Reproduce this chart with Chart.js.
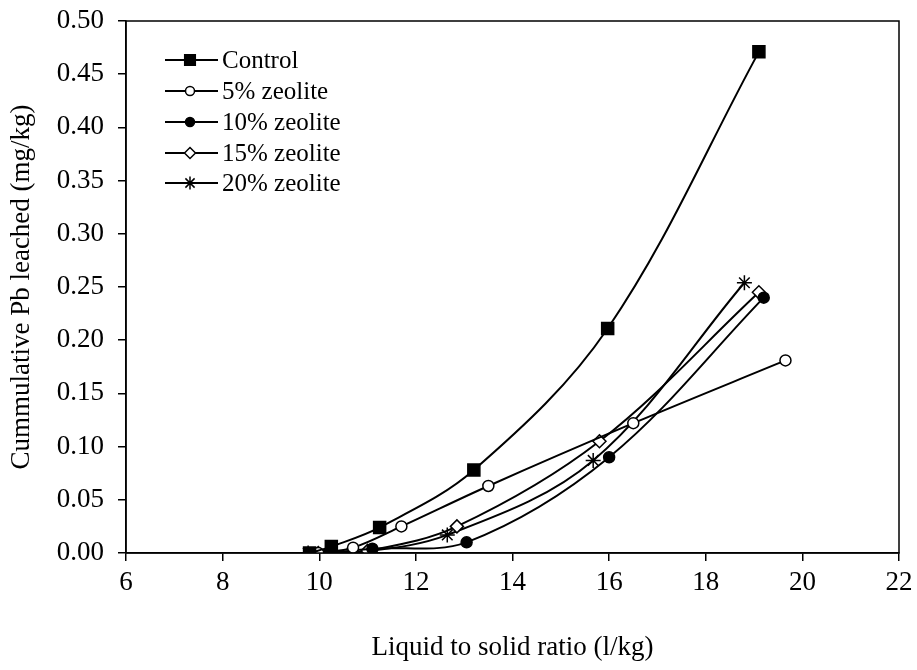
<!DOCTYPE html>
<html>
<head>
<meta charset="utf-8">
<script src="https://cdn.jsdelivr.net/npm/chart.js@4.4.0/dist/chart.umd.min.js"></script>
<style>
  html, body { margin: 0; padding: 0; background: #fff; }
</style>
</head>
<body>
<canvas id="leachChart" width="917" height="670"></canvas>
<script>
// Values
const controlX = [9.8, 10.25, 11.25, 13.2, 15.97, 19.1];
const controlY = [0, 0.006, 0.024, 0.078, 0.211, 0.471];

const zeo5X = [9.98, 10.7, 11.7, 13.5, 16.5, 19.65];
const zeo5Y = [0, 0.005, 0.025, 0.063, 0.122, 0.181];

const zeo10X = [10.2, 11.1, 13.05, 16.0, 19.2];
const zeo10Y = [0, 0.004, 0.01, 0.09, 0.24];

const zeo15X = [9.98, 11.0, 12.85, 15.8, 19.1];
const zeo15Y = [0, 0.002, 0.025, 0.105, 0.245];

const zeo20X = [9.77, 10.68, 12.65, 15.67, 18.8];
const zeo20Y = [0, 0, 0.017, 0.087, 0.254];

const xTicks = [6, 8, 10, 12, 14, 16, 18, 20, 22];
const yTicks = [0, 0.05, 0.10, 0.15, 0.20, 0.25, 0.30, 0.35, 0.40, 0.45, 0.50];

const FONT = '"Liberation Serif", "Times New Roman", serif';

function toPoints(xs, ys) {
  return xs.map((x, i) => ({ x: x, y: ys[i] }));
}

function makeSeries(label, xs, ys, style, radius, fill) {
  return {
    label: label,
    data: toPoints(xs, ys),
    showLine: true,
    tension: 0.35,
    borderColor: '#000',
    borderWidth: 2,
    pointStyle: style,
    pointRadius: radius,
    pointHoverRadius: radius,
    pointBorderWidth: 1.5,
    pointBorderColor: '#000',
    pointBackgroundColor: fill
  };
}

// legend, frame and axis titles drawn inside the plot like the original
const extras = {
  id: 'extras',
  afterDraw(chart) {
    const ctx = chart.ctx;
    const area = chart.chartArea;
    ctx.save();
    ctx.strokeStyle = '#000';
    ctx.lineWidth = 1.5;
    ctx.strokeRect(area.left, area.top, area.right - area.left, area.bottom - area.top);

    ctx.fillStyle = '#000';
    ctx.font = '25px ' + FONT;
    ctx.textAlign = 'left';
    ctx.textBaseline = 'middle';
    const rowY = [60, 91, 122, 153, 183];
    chart.data.datasets.forEach((ds, i) => {
      const y = rowY[i];
      ctx.strokeStyle = '#000';
      ctx.lineWidth = 2;
      ctx.beginPath();
      ctx.moveTo(165, y);
      ctx.lineTo(218, y);
      ctx.stroke();
      ctx.fillStyle = ds.pointBackgroundColor;
      ctx.lineWidth = ds.pointBorderWidth;
      Chart.helpers.drawPoint(ctx, {
        pointStyle: ds.pointStyle,
        radius: ds.pointRadius - 1,
        rotation: 0,
        borderWidth: ds.pointBorderWidth
      }, 190, y);
      ctx.fillStyle = '#000';
      ctx.fillText(ds.label, 222, y + 1);
    });

    ctx.font = '27px ' + FONT;
    ctx.textAlign = 'center';
    ctx.textBaseline = 'middle';
    ctx.fillText('Liquid to solid ratio (l/kg)', (area.left + area.right) / 2, 648);

    ctx.translate(22, (area.top + area.bottom) / 2);
    ctx.rotate(-Math.PI / 2);
    ctx.fillText('Cummulative Pb leached (mg/kg)', 0, 0);
    ctx.restore();
  }
};

const ctx = document.getElementById('leachChart').getContext('2d');

new Chart(ctx, {
  type: 'scatter',
  data: {
    datasets: [
      makeSeries('Control', controlX, controlY, 'rect', 8.5, '#000'),
      makeSeries('5% zeolite', zeo5X, zeo5Y, 'circle', 5.5, '#fff'),
      makeSeries('10% zeolite', zeo10X, zeo10Y, 'circle', 5.5, '#000'),
      makeSeries('15% zeolite', zeo15X, zeo15Y, 'rectRot', 6.5, '#fff'),
      makeSeries('20% zeolite', zeo20X, zeo20Y, 'star', 7.5, '#fff')
    ]
  },
  options: {
    responsive: false,
    animation: false,
    layout: { padding: { top: 21, right: 18, left: 0, bottom: 0 } },
    plugins: {
      legend: { display: false },
      tooltip: { enabled: false }
    },
    scales: {
      x: {
        type: 'linear',
        min: 6,
        max: 22,
        afterFit(scale) {
          scale.height = 117;
          scale.paddingLeft = 0;
          scale.paddingRight = 0;
        },
        afterBuildTicks(scale) { scale.ticks = xTicks.map(v => ({ value: v })); },
        ticks: {
          color: '#000',
          padding: 6,
          font: { family: FONT, size: 27 },
          callback: v => String(v)
        },
        grid: { drawOnChartArea: false, tickLength: 8, color: '#000', lineWidth: 1.5 },
        border: { display: true, color: '#000', width: 1.5 }
      },
      y: {
        type: 'linear',
        min: 0,
        max: 0.5,
        afterFit(scale) {
          scale.width = 126;
          scale.paddingTop = 0;
          scale.paddingBottom = 0;
        },
        afterBuildTicks(scale) { scale.ticks = yTicks.map(v => ({ value: v })); },
        ticks: {
          color: '#000',
          padding: 14,
          font: { family: FONT, size: 27 },
          callback: v => v.toFixed(2)
        },
        grid: { drawOnChartArea: false, tickLength: 8, color: '#000', lineWidth: 1.5 },
        border: { display: true, color: '#000', width: 1.5 }
      }
    }
  },
  plugins: [extras]
});
</script>
</body>
</html>
